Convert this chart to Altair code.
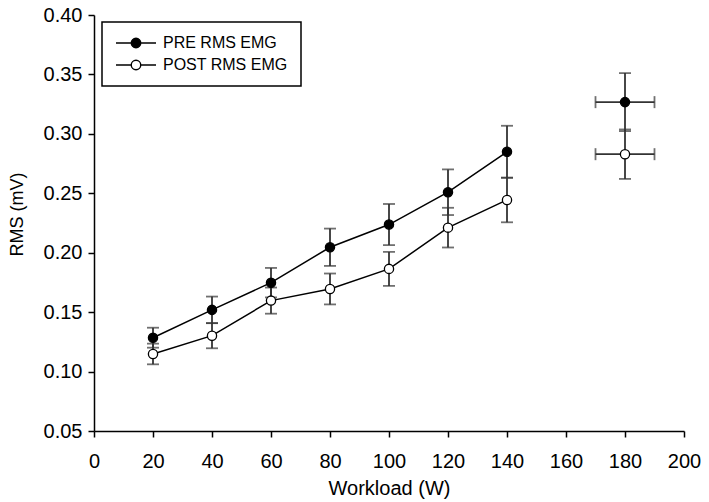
import altair as alt
import pandas as pd

workload = [20, 40, 60, 80, 100, 120, 140, 180]
pre_rms = [0.1285, 0.1519, 0.1748, 0.2046, 0.2237, 0.2509, 0.2849, 0.3267]
pre_err = [0.0084, 0.0112, 0.0124, 0.0157, 0.0173, 0.0192, 0.0219, 0.0244]
post_rms = [0.1148, 0.1302, 0.1597, 0.1695, 0.1864, 0.2211, 0.2444, 0.2829]
post_err = [0.0087, 0.0106, 0.0110, 0.0130, 0.0143, 0.0167, 0.0188, 0.0208]
workload_err = [0, 0, 0, 0, 0, 0, 0, 10]
series_names = ["PRE RMS EMG", "POST RMS EMG"]
x_ticks = [0, 20, 40, 60, 80, 100, 120, 140, 160, 180, 200]
y_ticks = [0.05, 0.10, 0.15, 0.20, 0.25, 0.30, 0.35, 0.40]

rows = []
for name, vals, errs in [(series_names[0], pre_rms, pre_err), (series_names[1], post_rms, post_err)]:
    for w, v, e, we in zip(workload, vals, errs, workload_err):
        rows.append({"series": name, "workload": w, "rms": v, "lo": v - e, "hi": v + e,
                     "xlo": w - we, "xhi": w + we, "xerr": we})
df = pd.DataFrame(rows)

FONT = "Liberation Sans"
xs = alt.Scale(domain=[0, 200], nice=False)
ys = alt.Scale(domain=[0.05, 0.40], nice=False, zero=False)

x_axis = alt.Axis(values=x_ticks, title="Workload (W)", labelPadding=14, titlePadding=7,
                  labelFlush=False)
y_axis = alt.Axis(values=y_ticks, format=".2f", title="RMS (mV)", labelPadding=6,
                  labelFlush=False, titleX=-68, titleY=199, titleFontSize=18)

base = alt.Chart(df)
err_color = "#333333"

vbar = base.mark_rule(color=err_color, strokeWidth=1.8).encode(
    x=alt.X("workload:Q", scale=xs, axis=x_axis),
    y=alt.Y("lo:Q", scale=ys, axis=y_axis),
    y2="hi:Q",
)
cap_lo = base.mark_tick(color=err_color, orient="horizontal", size=12, thickness=1.8).encode(
    x="workload:Q", y="lo:Q")
cap_hi = base.mark_tick(color=err_color, orient="horizontal", size=12, thickness=1.8).encode(
    x="workload:Q", y="hi:Q")

xerr_base = base.transform_filter("datum.xerr > 0")
hbar = xerr_base.mark_rule(color=err_color, strokeWidth=1.8).encode(
    x="xlo:Q", x2="xhi:Q", y="rms:Q")
xcap_lo = xerr_base.mark_tick(color=err_color, orient="vertical", size=12, thickness=1.8).encode(
    x="xlo:Q", y="rms:Q")
xcap_hi = xerr_base.mark_tick(color=err_color, orient="vertical", size=12, thickness=1.8).encode(
    x="xhi:Q", y="rms:Q")

lines = base.transform_filter("datum.workload <= 140").mark_line(color="black", strokeWidth=1.5).encode(
    x="workload:Q", y="rms:Q", detail="series:N")

sym = ("M-4,0L-0.95,0M0.95,0L4,0"
       "M-0.95,0A0.95,0.95 0 1,0 0.95,0A0.95,0.95 0 1,0 -0.95,0Z")

points = base.mark_point(filled=True, size=85, stroke="black", strokeWidth=1.3, opacity=1).encode(
    x="workload:Q", y="rms:Q",
    fill=alt.Fill("series:N",
                  scale=alt.Scale(domain=series_names, range=["black", "white"]),
                  sort=series_names,
                  legend=alt.Legend(title=None, orient="none", legendX=8, legendY=7,
                                    symbolType=sym, symbolSize=100,
                                    symbolStrokeColor="black", symbolStrokeWidth=1.4,
                                    symbolOffset=13, labelOffset=19,
                                    labelFont=FONT, labelFontSize=16, labelColor="black",
                                    padding=13, rowPadding=6,
                                    strokeColor="black", fillColor="white")),
)

chart = alt.layer(vbar, cap_lo, cap_hi, hbar, xcap_lo, xcap_hi, lines, points).properties(
    width=590, height=416,
    autosize=alt.AutoSizeParams(type="none"),
    padding={"left": 86, "top": 7, "right": 17, "bottom": 70},
).configure_view(stroke=None).configure_axis(
    grid=False, domainColor="black", domainWidth=1.5, tickColor="black", tickWidth=1.5,
    tickSize=6, labelFont=FONT, labelFontSize=20, labelColor="black",
    titleFont=FONT, titleFontSize=20, titleFontWeight="normal", titleColor="black",
).configure_legend(strokeWidth=1.5)

chart.save("out.html", embed_options={"renderer": "svg", "actions": False})
